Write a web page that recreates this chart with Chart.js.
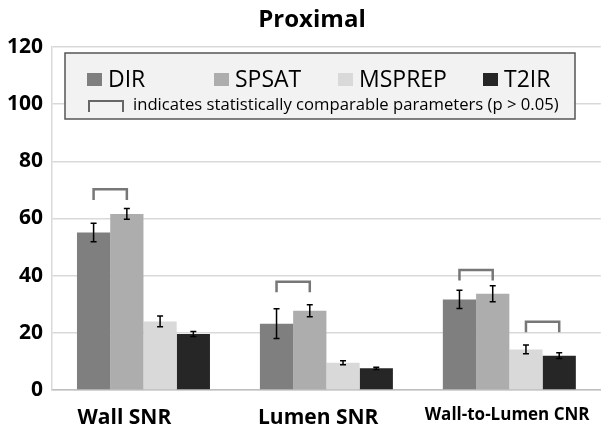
<!DOCTYPE html>
<html>
<head>
<meta charset="utf-8">
<script src="https://cdn.jsdelivr.net/npm/chart.js@4.4.1/dist/chart.umd.min.js"></script>
<style>
  html, body { margin: 0; padding: 0; background: #fff; }
  #wrap { width: 601px; height: 427px; }
</style>
</head>
<body>
<div id="wrap"><canvas id="chart"></canvas></div>
<script>
const categories = ["Wall SNR", "Lumen SNR", "Wall-to-Lumen CNR"];
const seriesNames = ["DIR", "SPSAT", "MSPREP", "T2IR"];
const dirValues = [55.1, 23.2, 31.7];
const spsatValues = [61.6, 27.7, 33.7];
const msprepValues = [24.0, 9.5, 14.2];
const t2irValues = [19.6, 7.6, 12.0];
const dirErrors = [3.2, 5.2, 3.2];
const spsatErrors = [1.9, 2.1, 2.8];
const msprepErrors = [1.9, 0.7, 1.5];
const t2irErrors = [0.9, 0.4, 1.0];
const yTicks = [0, 20, 40, 60, 80, 100, 120];

// comparable pairs: category, first series, second series, bracket top
const bracketCats = [0, 1, 2, 2];
const bracketFrom = [0, 0, 0, 2];
const bracketTo = [1, 1, 1, 3];
const bracketTop = [70.2, 37.9, 42.0, 23.9];
const bracketLeg = 3.7;

const colors = ["#7f7f7f", "#adadad", "#d9d9d9", "#262626"];
const FONT = "'Open Sans', sans-serif";
// labels sit a little left of their group in the original
const labelTail = ["       ", "   ", " "];

const allValues = [dirValues, spsatValues, msprepValues, t2irValues];
const allErrors = [dirErrors, spsatErrors, msprepErrors, t2irErrors];

const errorBars = {
  id: "errorBars",
  afterDatasetsDraw(chart) {
    const ctx = chart.ctx;
    const y = chart.scales.y;
    ctx.save();
    ctx.strokeStyle = "#000";
    ctx.lineWidth = 1.5;
    allValues.forEach((vals, i) => {
      const meta = chart.getDatasetMeta(i);
      vals.forEach((v, j) => {
        const x = meta.data[j].x;
        const e = allErrors[i][j];
        const y1 = y.getPixelForValue(v + e);
        const y2 = y.getPixelForValue(v - e);
        ctx.beginPath();
        ctx.moveTo(x, y1); ctx.lineTo(x, y2);
        ctx.moveTo(x - 3, y1); ctx.lineTo(x + 3, y1);
        ctx.moveTo(x - 3, y2); ctx.lineTo(x + 3, y2);
        ctx.stroke();
      });
    });
    ctx.restore();
  }
};

const brackets = {
  id: "brackets",
  afterDatasetsDraw(chart) {
    const ctx = chart.ctx;
    const y = chart.scales.y;
    ctx.save();
    ctx.strokeStyle = "#777";
    ctx.lineWidth = 2.5;
    bracketCats.forEach((c, k) => {
      const x1 = chart.getDatasetMeta(bracketFrom[k]).data[c].x;
      const x2 = chart.getDatasetMeta(bracketTo[k]).data[c].x;
      const yt = y.getPixelForValue(bracketTop[k]);
      const yb = y.getPixelForValue(bracketTop[k] - bracketLeg);
      ctx.beginPath();
      ctx.moveTo(x1, yb); ctx.lineTo(x1, yt); ctx.lineTo(x2, yt); ctx.lineTo(x2, yb);
      ctx.stroke();
    });
    ctx.restore();
  }
};

const legendBox = {
  id: "legendBox",
  afterDraw(chart) {
    const ctx = chart.ctx;
    ctx.save();
    // title
    ctx.fillStyle = "#000";
    ctx.font = "bold 24px " + FONT;
    ctx.textAlign = "center";
    ctx.textBaseline = "alphabetic";
    ctx.fillText("Proximal", 312, 27);

    // box
    ctx.fillStyle = "#f2f2f2";
    ctx.fillRect(65, 53, 510, 66);
    ctx.strokeStyle = "#555";
    ctx.lineWidth = 1.5;
    ctx.strokeRect(65, 53, 510, 66);

    const swatchX = [87, 214, 338, 483];
    ctx.textAlign = "left";
    ctx.font = "23px " + FONT;
    seriesNames.forEach((name, i) => {
      ctx.fillStyle = colors[i];
      ctx.fillRect(swatchX[i], 73, 15, 13);
      ctx.fillStyle = "#000";
      ctx.fillText(name, swatchX[i] + 21, 87);
    });

    ctx.strokeStyle = "#666";
    ctx.lineWidth = 2;
    ctx.beginPath();
    ctx.moveTo(89, 112); ctx.lineTo(89, 101); ctx.lineTo(123, 101); ctx.lineTo(123, 112);
    ctx.stroke();

    const note = "indicates statistically comparable parameters (p > 0.05)";
    ctx.font = "16px " + FONT;
    const size = 16 * 426 / ctx.measureText(note).width;
    ctx.font = size.toFixed(2) + "px " + FONT;
    ctx.fillStyle = "#000";
    ctx.fillText(note, 133, 110);
    ctx.restore();
  }
};

new Chart(document.getElementById("chart"), {
  type: "bar",
  data: {
    labels: categories,
    datasets: seriesNames.map((name, i) => ({
      label: name,
      data: allValues[i],
      backgroundColor: colors[i],
      categoryPercentage: 0.727,
      barPercentage: 1.0
    }))
  },
  options: {
    responsive: true,
    maintainAspectRatio: false,
    animation: false,
    layout: { padding: { top: 47, right: 0, left: 0, bottom: 0 } },
    plugins: {
      legend: { display: false },
      title: { display: false },
      tooltip: { enabled: false }
    },
    scales: {
      x: {
        grid: { display: false },
        border: { color: "#bfbfbf", width: 1.5 },
        ticks: {
          color: "#000",
          padding: 7,
          maxRotation: 0,
          callback: (v, i) => categories[i] + labelTail[i],
          font: (c) => ({ family: FONT, weight: "bold", size: c.index === 2 ? 17 : 21 })
        },
        afterFit: (s) => { s.height = 37; }
      },
      y: {
        min: 0,
        max: 120,
        afterBuildTicks: (s) => { s.ticks = yTicks.map(v => ({ value: v })); },
        grid: { color: "#d9d9d9", lineWidth: 1.5, drawTicks: false },
        border: { color: "#d9d9d9", width: 1.5 },
        ticks: {
          color: "#000",
          padding: 9,
          font: { family: FONT, weight: "bold", size: 21 }
        },
        afterFit: (s) => { s.width = 52; }
      }
    }
  },
  plugins: [errorBars, brackets, legendBox]
});
</script>
</body>
</html>
